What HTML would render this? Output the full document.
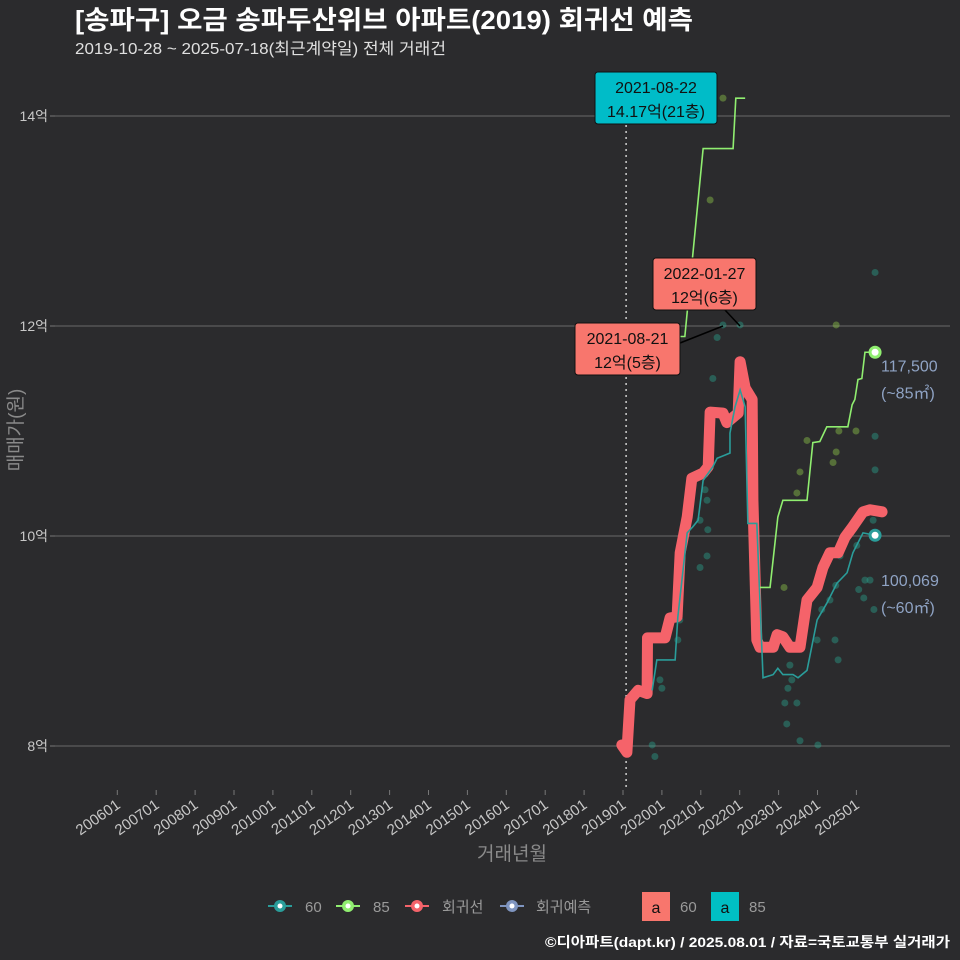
<!DOCTYPE html>
<html><head><meta charset="utf-8">
<style>
body{margin:0;background:#2b2b2d;}
svg{display:block;font-family:"Liberation Sans","Noto Sans CJK KR",sans-serif;}
</style></head>
<body>
<svg id="chart" width="960" height="960" viewBox="0 0 960 960" xmlns="http://www.w3.org/2000/svg">
<rect width="960" height="960" fill="#2b2b2d"/>
<text x="75" y="29" fill="#ffffff" font-size="26" font-weight="bold" textLength="618" lengthAdjust="spacingAndGlyphs">[송파구] 오금 송파두산위브 아파트(2019) 회귀선 예측</text>
<text x="75" y="54" fill="#e0e0e0" font-size="16" textLength="371" lengthAdjust="spacingAndGlyphs">2019-10-28 ~ 2025-07-18(최근계약일) 전체 거래건</text>
<g id="grid"></g>
<g id="xaxis"></g>
<text transform="translate(22,430) rotate(-90)" text-anchor="middle" fill="#8a8a8a" font-size="19">매매가(원)</text>
<text x="512" y="860" text-anchor="middle" fill="#8a8a8a" font-size="19">거래년월</text>
<g id="marks"></g>
<g id="annot"></g>
<g>
 <g><line x1="268" y1="906" x2="292" y2="906" stroke="#2a9d9a" stroke-width="2"/><circle cx="280" cy="906" r="6" fill="#2a9d9a"/><circle cx="280" cy="906" r="2.5" fill="#fff"/><text x="305" y="912" fill="#9a9a9a" font-size="15">60</text></g>
 <g><line x1="336" y1="906" x2="360" y2="906" stroke="#90ee70" stroke-width="2"/><circle cx="348" cy="906" r="6" fill="#90ee70"/><circle cx="348" cy="906" r="2.5" fill="#fff"/><text x="373" y="912" fill="#9a9a9a" font-size="15">85</text></g>
 <g><line x1="405" y1="906" x2="429" y2="906" stroke="#f5636a" stroke-width="2"/><circle cx="417" cy="906" r="6" fill="#f5636a"/><circle cx="417" cy="906" r="2.5" fill="#fff"/><text x="442" y="912" fill="#9a9a9a" font-size="15">회귀선</text></g>
 <g><line x1="500" y1="906" x2="524" y2="906" stroke="#7f95c0" stroke-width="2"/><circle cx="512" cy="906" r="6" fill="#7f95c0"/><circle cx="512" cy="906" r="2.5" fill="#fff"/><text x="536" y="912" fill="#9a9a9a" font-size="15">회귀예측</text></g>
 <g><rect x="642" y="892" width="28" height="29" fill="#f8766d"/><text x="656" y="913" text-anchor="middle" fill="#111" font-size="16">a</text><text x="680" y="912" fill="#9a9a9a" font-size="15">60</text></g>
 <g><rect x="711" y="892" width="28" height="29" fill="#00bfc4"/><text x="725" y="913" text-anchor="middle" fill="#111" font-size="16">a</text><text x="749" y="912" fill="#9a9a9a" font-size="15">85</text></g>
</g>
<text x="950" y="947" text-anchor="end" fill="#ffffff" font-size="14" font-weight="bold" textLength="405" lengthAdjust="spacingAndGlyphs">©디아파트(dapt.kr) / 2025.08.01 / 자료=국토교통부 실거래가</text>
</svg>
<script>
const yTicks=[8,10,12,14];
const xTickYears=[2006,2007,2008,2009,2010,2011,2012,2013,2014,2015,2016,2017,2018,2019,2020,2021,2022,2023,2024,2025];
const regT=[2018.97,2019.10,2019.18,2019.39,2019.62,2019.63,2020.08,2020.21,2020.39,2020.47,2020.65,2020.77,2021.06,2021.19,2021.24,2021.57,2021.67,2021.83,2021.96,2022.01,2022.14,2022.32,2022.34,2022.44,2022.52,2022.86,2022.96,2023.11,2023.29,2023.55,2023.73,2023.99,2024.14,2024.32,2024.53,2024.71,2024.91,2025.17,2025.35,2025.66];
const regV=[8.01,7.94,8.44,8.53,8.50,9.03,9.03,9.22,9.23,9.84,10.18,10.55,10.60,10.66,11.18,11.17,11.08,11.13,11.17,11.66,11.41,11.30,10.34,9.01,8.94,8.94,9.06,9.04,8.94,8.94,9.39,9.51,9.70,9.84,9.84,9.99,10.09,10.23,10.25,10.23];
const s60T=[2019.75,2019.87,2020.34,2020.41,2020.65,2020.80,2020.93,2021.06,2021.31,2021.42,2021.62,2021.75,2021.75,2021.88,2022.01,2022.14,2022.21,2022.44,2022.60,2022.86,2022.98,2023.11,2023.37,2023.50,2023.73,2023.99,2024.24,2024.50,2024.76,2024.91,2025.17,2025.48];
const s60V=[8.53,8.82,8.82,9.23,10.03,10.09,10.15,10.53,10.66,10.74,10.77,10.79,10.98,11.23,11.39,11.23,10.12,10.12,8.65,8.68,8.74,8.68,8.68,8.65,8.72,9.20,9.36,9.55,9.65,9.84,10.03,10.0069];
const s85aT=[2020.47,2020.59,2020.65,2021.06,2021.83,2021.90,2022.14];
const s85aV=[11.90,11.90,12.13,13.69,13.69,14.17,14.17];
const s85bT=[2022.52,2022.78,2022.98,2023.11,2023.73,2023.88,2024.06,2024.24,2024.78,2024.89,2024.96,2025.04,2025.14,2025.22,2025.48];
const s85bV=[9.51,9.51,10.18,10.34,10.34,10.89,10.90,11.04,11.04,11.25,11.30,11.49,11.50,11.75,11.75];
const dot60T=[2021.57,2022.01,2021.42,2021.31,2021.11,2021.16,2020.98,2021.18,2021.16,2020.98,2020.46,2020.41,2019.95,2020.00,2019.75,2019.82,2022.91,2023.29,2023.34,2023.24,2023.16,2023.47,2023.21,2023.55,2024.01,2023.99,2024.11,2024.32,2024.45,2024.53,2024.58,2024.47,2025.01,2025.06,2025.22,2025.35,2025.45,2025.19,2025.48,2025.48,2025.43,2025.48];
const dot60V=[12.01,12.01,11.89,11.50,10.44,10.34,10.15,10.06,9.81,9.70,9.20,9.01,8.63,8.55,8.01,7.90,8.93,8.77,8.63,8.55,8.41,8.41,8.21,8.05,8.01,9.01,9.30,9.39,9.01,8.82,9.81,9.53,9.91,9.49,9.58,9.58,9.30,9.41,10.63,10.95,10.15,12.51];
const dot85T=[2021.57,2021.24,2023.73,2024.48,2024.40,2024.55,2024.99,2023.47,2023.55,2023.14,2024.48];
const dot85V=[14.17,13.20,10.91,10.80,10.70,11.00,11.00,10.41,10.61,9.51,12.01];
const refLineT=2019.08;

const NS='http://www.w3.org/2000/svg';
function X(t){return 623+(t-2019)*38.9;}
function Y(v){return 746-(v-8)*105;}
function mk(tag,attrs,parent){const e=document.createElementNS(NS,tag);for(const k in attrs)e.setAttribute(k,attrs[k]);parent.appendChild(e);return e;}
const grid=document.getElementById('grid'),xa=document.getElementById('xaxis'),marks=document.getElementById('marks'),ann=document.getElementById('annot');
yTicks.forEach(v=>{
 const l=mk('line',{x1:55,x2:950,y1:Y(v),y2:Y(v),stroke:'#5e5e5e','stroke-width':1.2},grid);
 
 
 const tk=mk('line',{x1:50,x2:55,y1:Y(v),y2:Y(v),stroke:'#777'},grid);
 
 
 const t=mk('text',{x:48,y:Y(v)+5,'text-anchor':'end',fill:'#c8c8c8','font-size':14},grid);
 t.textContent=v+'억';
 
 
});
xTickYears.forEach(yr=>{
 const x=X(yr);
 const tk=mk('line',{x1:x,x2:x,y1:790,y2:795,stroke:'#777'},xa);
 
 
 const t=mk('text',{x:0,y:0,'text-anchor':'end',fill:'#c8c8c8','font-size':15,transform:`translate(${x+4},${807}) rotate(-35)`},xa);
 t.textContent=yr+'01';
 
 
});
const rl=mk('line',{x1:X(refLineT),x2:X(refLineT),y1:95,y2:790,stroke:'#cfcfcf','stroke-width':1.5,'stroke-dasharray':'2,4'},marks);


function pts(T,V){return T.map((t,i)=>X(t)+','+Y(V[i])).join(' ');}
dot60T.forEach((t,i)=>{const c=mk('circle',{cx:X(t),cy:Y(dot60V[i]),r:3.5,fill:'#2a9d8a','fill-opacity':0.45},marks);
 
 });
dot85T.forEach((t,i)=>{const c=mk('circle',{cx:X(t),cy:Y(dot85V[i]),r:3.5,fill:'#8bc34a','fill-opacity':0.45},marks);
 
 });
const rp=mk('polyline',{points:pts(regT,regV),fill:'none',stroke:'#f5636a','stroke-width':11,'stroke-linejoin':'round','stroke-linecap':'round'},marks);


const p60=mk('polyline',{points:pts(s60T,s60V),fill:'none',stroke:'#2a9d9a','stroke-width':1.6},marks);


const p85a=mk('polyline',{points:pts(s85aT,s85aV),fill:'none',stroke:'#90ee70','stroke-width':1.6},marks);


const p85b=mk('polyline',{points:pts(s85bT,s85bV),fill:'none',stroke:'#90ee70','stroke-width':1.6},marks);


const e85=mk('circle',{cx:X(s85bT[s85bT.length-1]),cy:Y(s85bV[s85bV.length-1]),r:5,fill:'#fff',stroke:'#90ee70','stroke-width':3},marks);


const e60=mk('circle',{cx:X(s60T[s60T.length-1]),cy:Y(s60V[s60V.length-1]),r:5,fill:'#fff',stroke:'#2a9d9a','stroke-width':3},marks);


function endLabel(v,txt1,txt2,name){
 const t1=mk('text',{x:881,y:Y(v)+19,fill:'#8fa3c4','font-size':16},ann);t1.textContent=txt1;
 
 
 const t2=mk('text',{x:881,y:Y(v)+46,fill:'#8fa3c4','font-size':16},ann);t2.textContent=txt2;
 
 
}
endLabel(11.75,'117,500','(~85㎡)','end-label-85');
endLabel(10.0069-0.3,'100,069','(~60㎡)','end-label-60');
function box(x,y,w,h,fill,l1,l2,name,lx1,ly1,lx2,ly2){
 if(lx1!==undefined){const ln=mk('line',{x1:lx1,y1:ly1,x2:lx2,y2:ly2,stroke:'#000','stroke-width':1.5},ann);
  
  }
 const g=mk('g',{},ann);
 
 
 mk('rect',{x:x,y:y,width:w,height:h,rx:3,fill:fill,stroke:'#111','stroke-width':1},g);
 const a=mk('text',{x:x+w/2,y:y+21,'text-anchor':'middle',fill:'#111','font-size':16},g);a.textContent=l1;
 const b=mk('text',{x:x+w/2,y:y+45,'text-anchor':'middle',fill:'#111','font-size':16},g);b.textContent=l2;
}
box(595,72,122,52,'#00bcc8','2021-08-22','14.17억(21층)','annotation-max-85');
box(653,258,103,52,'#f8766d','2022-01-27','12억(6층)','annotation-max-60b',725,310,740,326);
box(575,323,105,52,'#f8766d','2021-08-21','12억(5층)','annotation-max-60a',680,343,723,326);
</script>
</body></html>
